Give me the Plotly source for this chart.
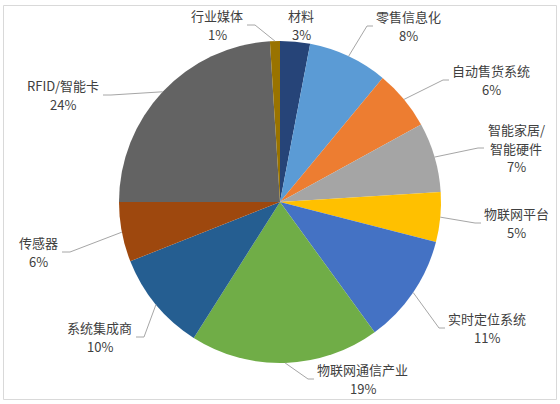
import math
import plotly.graph_objects as go

# ---- data ----
categories = ["材料", "零售信息化", "自动售货系统", "智能家居/<br>智能硬件", "物联网平台",
              "实时定位系统", "物联网通信产业", "系统集成商", "传感器", "RFID/智能卡", "行业媒体"]
values = [3, 8, 6, 7, 5, 11, 19, 10, 6, 24, 1]
colors = ["#264478", "#5B9BD5", "#ED7D31", "#A5A5A5", "#FFC000", "#4472C4",
          "#70AD47", "#255E91", "#9E480E", "#636363", "#997300"]

# ---- layout / style ----
W, H = 560, 404
pie_top, pie_bottom = 41, 363
CX = W / 2
CY = (pie_top + pie_bottom) / 2
R = (pie_bottom - pie_top) / 2

# label anchor (pixel x, pixel y-center, side)  side: 'l' text starts at x, 'r' ends at x, 'c' centered
label_pos = [
    (301, 25, "c"),
    (376, 26, "l"),
    (452, 80, "l"),
    (487, 148, "l"),
    (484, 223, "l"),
    (448, 328, "l"),
    (317, 379, "l"),
    (132, 337, "r"),
    (58, 252, "r"),
    (99, 95, "r"),
    (243, 25, "r"),
]
LINE_H = 19
FSIZE = 13
FONT = dict(family="Noto Sans CJK SC, sans-serif", size=FSIZE, color="#404040")


def px(x):
    return x / W


def py(y):
    return 1 - y / H


def text_w(s):
    return sum(FSIZE if ord(c) > 255 else 6.5 for c in s)


fig = go.Figure(go.Pie(
    labels=categories,
    values=values,
    sort=False,
    direction="clockwise",
    rotation=0,
    marker=dict(colors=colors, line=dict(width=0)),
    textinfo="none",
    hoverinfo="label+percent",
    domain=dict(x=[0, 1], y=[1 - pie_bottom / H, 1 - pie_top / H]),
    showlegend=False,
))

total = sum(values)
cum = 0
annotations = []
shapes = []
for name, v, (lx, ly, side) in zip(categories, values, label_pos):
    mid = (cum + v / 2) / total * 2 * math.pi
    cum += v
    pct = round(v / total * 100)
    ex = CX + R * math.sin(mid)
    ey = CY - R * math.cos(mid)
    lines = name.split("<br>") + [f"{pct}%"]
    wblock = max(text_w(s) for s in lines)
    if side == "l":
        cxl = lx + wblock / 2
    elif side == "r":
        cxl = lx - wblock / 2
    else:
        cxl = lx
    top = ly - len(lines) * LINE_H / 2
    for i, s in enumerate(lines):
        annotations.append(dict(
            x=px(cxl), y=py(top + (i + 0.5) * LINE_H), xref="paper", yref="paper",
            text=s, showarrow=False, align="center", borderpad=0,
            xanchor="center", yanchor="middle", font=FONT,
        ))
    if side == "c":
        continue
    if side == "l":
        endx = lx - 3
        elbx = endx - 6
    else:
        endx = lx + 4
        elbx = endx + 8
    path = f"M {px(ex)} {py(ey)} L {px(elbx)} {py(ly)} L {px(endx)} {py(ly)}"
    shapes.append(dict(type="path", xref="paper", yref="paper", path=path,
                       line=dict(color="#A6A6A6", width=1)))

shapes.append(dict(type="rect", xref="paper", yref="paper",
                   x0=px(3.5), y0=py(399.5), x1=px(556.5), y1=py(5.5),
                   line=dict(color="#D9D9D9", width=1)))

fig.update_layout(
    width=W, height=H,
    margin=dict(l=0, r=0, t=0, b=0),
    paper_bgcolor="white", plot_bgcolor="white",
    annotations=annotations,
    shapes=shapes,
)

fig.write_html("out.html", config={"displayModeBar": False},
               post_script="document.body.style.margin='0';")
